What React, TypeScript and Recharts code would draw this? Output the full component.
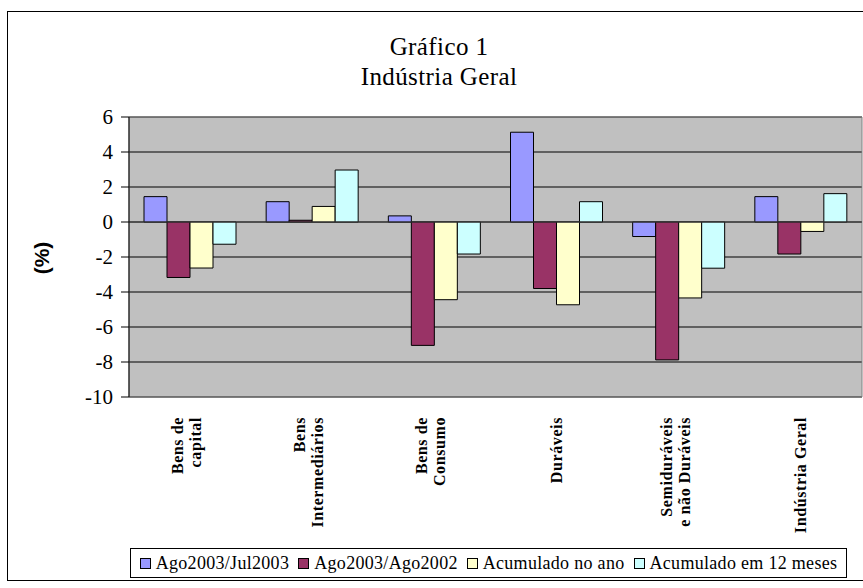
import { BarChart, Bar, XAxis, YAxis, CartesianGrid, ReferenceLine, ReferenceArea } from 'recharts'

const categories = [
  'Bens de|capital',
  'Bens|Intermediários',
  'Bens de|Consumo',
  'Duráveis',
  'Semiduráveis|e não Duráveis',
  'Indústria Geral',
]
const agoJul = [1.45, 1.16, 0.35, 5.13, -0.83, 1.45]
const agoAgo = [-3.17, 0.1, -7.05, -3.8, -7.88, -1.83]
const acumAno = [-2.63, 0.89, -4.44, -4.73, -4.34, -0.54]
const acum12 = [-1.27, 2.97, -1.83, 1.16, -2.64, 1.62]
const yTicks = [-10, -8, -6, -4, -2, 0, 2, 4, 6]

const series = [
  { key: 'agoJul', name: 'Ago2003/Jul2003', color: '#9999FF' },
  { key: 'agoAgo', name: 'Ago2003/Ago2002', color: '#993366' },
  { key: 'acumAno', name: 'Acumulado no ano', color: '#FFFFCC' },
  { key: 'acum12', name: 'Acumulado em 12 meses', color: '#CCFFFF' },
]

const data = categories.map((c, i) => ({
  cat: c,
  agoJul: agoJul[i],
  agoAgo: agoAgo[i],
  acumAno: acumAno[i],
  acum12: acum12[i],
}))

const serif = '"Liberation Serif", "Times New Roman", serif'

function CatTick(props: any) {
  const { x, payload } = props
  const lines: string[] = String(payload.value).split('|')
  const gap = 18
  const first = lines.length === 1 ? 5 : -7
  return (
    <g transform={`translate(${x},417)`}>
      <text
        transform="rotate(-90)"
        textAnchor="end"
        fontFamily={serif}
        fontWeight="bold"
        fontSize={16}
        letterSpacing={0.6}
        fill="#000"
      >
        {lines.map((l, i) => (
          <tspan key={i} x={0} y={first + i * gap}>
            {l}
          </tspan>
        ))}
      </text>
    </g>
  )
}

export default function App() {
  return (
    <div style={{ position: 'absolute', left: 0, top: 0, width: 863, height: 588, background: '#fff', overflow: 'hidden' }}>
      <div style={{ position: 'absolute', left: 7, top: 11, width: 900, height: 568, border: '1px solid #000' }} />
      <div
        style={{
          position: 'absolute',
          left: 239,
          width: 400,
          top: 32,
          textAlign: 'center',
          fontFamily: serif,
          fontSize: 25,
          letterSpacing: 0.4,
          lineHeight: '30px',
        }}
      >
        Gráfico 1
        <br />
        Indústria Geral
      </div>
      <div
        style={{
          position: 'absolute',
          left: 42,
          top: 258,
          transform: 'translate(-50%, -50%) rotate(-90deg)',
          fontFamily: '"Liberation Sans", Arial, sans-serif',
          fontWeight: 'bold',
          fontSize: 21,
          whiteSpace: 'nowrap',
        }}
      >
        (%)
      </div>
      <div style={{ position: 'absolute', left: 0, top: 0 }}>
        <BarChart
          width={863}
          height={588}
          data={data}
          margin={{ top: 117, right: 1, left: 0, bottom: 41 }}
          barCategoryGap={15}
          barGap={0}
        >
          <CartesianGrid vertical={false} stroke="#000" fill="#C0C0C0" />
          <ReferenceArea y1={-10} y2={6} fill="none" stroke="#808080" strokeWidth={1} />
          <XAxis dataKey="cat" height={150} axisLine={false} tickLine={false} tick={<CatTick />} interval={0} />
          <YAxis
            width={129}
            domain={[-10, 6]}
            ticks={yTicks}
            interval={0}
            axisLine={{ stroke: '#000' }}
            tickLine={{ stroke: '#000' }}
            tickSize={8}
            tickMargin={8}
            tick={{ fill: '#000', fontFamily: serif, fontSize: 21 }}
          />
          <ReferenceLine y={0} stroke="#404040" />
          {series.map((s) => (
            <Bar key={s.key} dataKey={s.key} name={s.name} fill={s.color} stroke="#000" strokeWidth={1} isAnimationActive={false} />
          ))}
        </BarChart>
      </div>
      <div
        style={{
          position: 'absolute',
          left: 130,
          top: 548,
          width: 715,
          height: 28,
          border: '1px solid #000',
          display: 'flex',
          alignItems: 'center',
          justifyContent: 'center',
          fontFamily: serif,
          fontSize: 18,
          letterSpacing: 0.3,
          whiteSpace: 'nowrap',
        }}
      >
        {series.map((s, i) => (
          <span key={s.key} style={{ display: 'flex', alignItems: 'center', marginRight: i < series.length - 1 ? 9 : 0 }}>
            <span style={{ width: 9, height: 9, border: '1px solid #000', background: s.color, marginRight: 5 }} />
            {s.name}
          </span>
        ))}
      </div>
    </div>
  )
}
